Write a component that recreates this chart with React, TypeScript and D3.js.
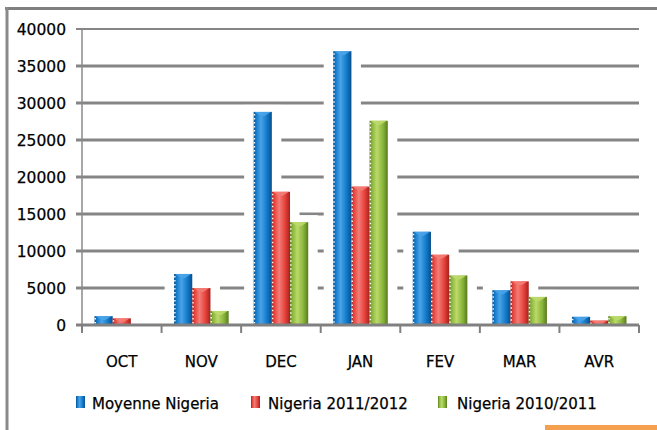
import React from "react";
import * as d3 from "d3";

const categories = ["OCT", "NOV", "DEC", "JAN", "FEV", "MAR", "AVR"];
const seriesNames = ["Moyenne Nigeria", "Nigeria 2011/2012", "Nigeria 2010/2011"];
const moyenne = [1200, 6900, 28800, 37000, 12600, 4700, 1100];
const nigeria1112 = [900, 5000, 18000, 18700, 9500, 5900, 600];
const nigeria1011 = [0, 1900, 13900, 27600, 6700, 3800, 1200];
const yTicks = [0, 5000, 10000, 15000, 20000, 25000, 30000, 35000, 40000];

const seriesValues = [moyenne, nigeria1112, nigeria1011];
const colors = [
  { base: "#0f78c8", dark: "#0a4e8a", light: "#4aa3e8" },
  { base: "#e33f38", dark: "#a3211c", light: "#f47c76" },
  { base: "#86b338", dark: "#587a20", light: "#bcd96a" },
];

const W = 657;
const H = 430;
const left = 82;
const right = 639;
const top = 29;
const bottom = 325;

export default function App() {
  const x0 = d3.scaleBand<string>().domain(categories).range([left, right]).padding(0);
  const x1 = d3
    .scaleBand<string>()
    .domain(seriesNames)
    .range([12.5, x0.bandwidth() - 12.5])
    .padding(0);
  const y = d3.scaleLinear().domain([0, 40000]).range([bottom, top]);

  const bars: { key: string; x: number; w: number; yTop: number; s: number }[] = [];
  categories.forEach((c, ci) => {
    seriesNames.forEach((sn, si) => {
      const v = seriesValues[si][ci];
      if (v <= 0) return;
      bars.push({
        key: `${c}-${si}`,
        x: (x0(c) as number) + (x1(sn) as number),
        w: x1.bandwidth(),
        yTop: y(v),
        s: si,
      });
    });
  });

  const legendX = [76, 251, 438];
  const legendTextX = [92, 268, 457];

  return (
    <div style={{ position: "absolute", left: 0, top: 0 }}>
      <svg width={W} height={H} style={{ display: "block", fontFamily: "DejaVu Sans, sans-serif" }}>
        <defs>
          {colors.map((c, i) => (
            <linearGradient key={i} id={`g${i}`} x1="0" x2="1" y1="0" y2="0">
              <stop offset="0%" stopColor={c.dark} />
              <stop offset="12%" stopColor={c.base} />
              <stop offset="40%" stopColor={c.light} />
              <stop offset="75%" stopColor={c.base} />
              <stop offset="100%" stopColor={c.dark} />
            </linearGradient>
          ))}
        </defs>
        <rect x={0} y={0} width={W} height={H} fill="#ffffff" />
        {/* frame */}
        <line x1={5} x2={W} y1={8.5} y2={8.5} stroke="#7f7f7f" strokeWidth={3} />
        <line x1={7} x2={7} y1={7} y2={H} stroke="#8a8a8a" strokeWidth={3} />
        <rect x={545} y={425} width={112} height={5} fill="#f5a04f" />

        {/* gridlines */}
        {yTicks.slice(1).map((t) => (
          <line
            key={t}
            x1={76}
            x2={right}
            y1={y(t)}
            y2={y(t)}
            stroke="#858585"
            strokeWidth={t === 40000 ? 2 : 3}
          />
        ))}
        {/* y axis */}
        <line x1={left} x2={left} y1={top} y2={bottom} stroke="#8a8a8a" strokeWidth={1.5} />

        {/* glows */}
        {bars.map((b) => (
          <rect key={`w-${b.key}`} x={b.x - 9.5} y={b.yTop - 7} width={b.w + 19} height={bottom - b.yTop + 5} fill="#ffffff" />
        ))}

        {/* bars */}
        {bars.map((b) => {
          const c = colors[b.s];
          const h = bottom - b.yTop;
          const cap = Math.min(4, h);
          return (
            <g key={b.key}>
              <rect x={b.x} y={b.yTop} width={b.w} height={h} fill={`url(#g${b.s})`} />
              <polygon
                points={`${b.x + 1},${b.yTop} ${b.x + b.w - 1},${b.yTop} ${b.x + b.w * 0.6},${b.yTop + cap} ${b.x + b.w * 0.4},${b.yTop + cap}`}
                fill={c.light}
                opacity={0.9}
              />
              <line
                x1={b.x + 0.8}
                x2={b.x + 0.8}
                y1={b.yTop + 2}
                y2={bottom}
                stroke="#ffffff"
                strokeWidth={1.4}
                strokeDasharray="1.5,2.5"
              />
            </g>
          );
        })}

        {/* x axis */}
        <line x1={76} x2={right} y1={bottom} y2={bottom} stroke="#808080" strokeWidth={3} />
        {categories.map((c) => (
          <line key={`t-${c}`} x1={x0(c) as number} x2={x0(c) as number} y1={bottom} y2={333} stroke="#808080" strokeWidth={2} />
        ))}
        <line x1={right} x2={right} y1={bottom} y2={333} stroke="#808080" strokeWidth={2} />

        {/* y labels */}
        {yTicks.map((t) => (
          <text key={`l-${t}`} x={66} y={y(t) + 5.5} textAnchor="end" fontSize={15.5} fill="#000" stroke="#000" strokeWidth={0.25}>
            {t}
          </text>
        ))}
        {/* x labels */}
        {categories.map((c) => (
          <text
            key={`c-${c}`}
            x={(x0(c) as number) + x0.bandwidth() / 2}
            y={367}
            textAnchor="middle"
            fontSize={15}
            fill="#000"
            stroke="#000"
            strokeWidth={0.25}
          >
            {c}
          </text>
        ))}

        {/* legend */}
        {seriesNames.map((s, i) => (
          <g key={`lg-${s}`}>
            <rect x={legendX[i]} y={396} width={9} height={12} fill={`url(#g${i})`} />
            <text x={legendTextX[i]} y={409} fontSize={15} fill="#000" stroke="#000" strokeWidth={0.25}>
              {s}
            </text>
          </g>
        ))}
      </svg>
    </div>
  );
}
